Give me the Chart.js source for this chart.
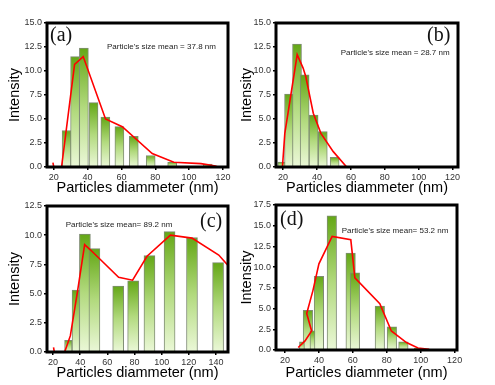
<!DOCTYPE html>
<html>
<head>
<meta charset="utf-8">
<script src="https://cdn.jsdelivr.net/npm/chart.js@4"></script>
<style>
  html, body { margin: 0; padding: 0; background: #fff; }
  #wrap { position: relative; width: 495px; height: 385px; overflow: hidden; }
  canvas { position: absolute; }
</style>
</head>
<body>
<div id="wrap">
  <canvas id="chartA" width="245" height="200" style="left:0;top:0"></canvas>
  <canvas id="chartB" width="245" height="200" style="left:232px;top:0"></canvas>
  <canvas id="chartC" width="245" height="195" style="left:0;top:190px"></canvas>
  <canvas id="chartD" width="245" height="195" style="left:232px;top:190px"></canvas>
</div>
<script>
// ---- data ----
// (a)
const barsA = [[27.6, 3.8], [32.6, 11.5], [37.8, 12.4], [43.5, 6.7], [50.5, 5.2], [58.8, 4.2], [67.3, 3.2], [77.3, 1.2], [90, 0.5], [111, 0.3]];
const lineA = [[19.5, 0.45], [20, 0], [24.6, 0], [32.3, 10.7], [37.4, 11.5], [50.6, 5.0], [60.5, 4.2], [78.2, 1.4], [91, 0.5], [107, 0.35], [115.5, 0.1], [117, 0]];
const xTicksA = [20, 40, 60, 80, 100, 120];
const yTicksA = [0, 2.5, 5, 7.5, 10, 12.5, 15];
const noteA = "Particle's size mean = 37.8 nm";

// (b)
const barsB = [[19.5, 0.5], [23.5, 7.6], [28.2, 12.8], [32.7, 9.6], [38, 5.4], [43.4, 3.7], [50.4, 1.0]];
const lineB = [[19.6, 0], [21, 3.5], [28.3, 11.7], [31.8, 10.3], [33.4, 9.4], [37.8, 5.6], [42.3, 3.5], [49.6, 1.6], [57.5, 0]];
const xTicksB = [20, 40, 60, 80, 100, 120];
const yTicksB = [0, 2.5, 5, 7.5, 10, 12.5, 15];
const noteB = "Particle's size mean = 28.7 nm";

// (c)
const barsCNarrow = [[31.3, 1.0], [36.8, 5.3]];
const barsCWide = [[43.5, 10.1], [50.5, 8.85], [68, 5.65], [79, 6.1], [91, 8.25], [105.8, 10.3], [122.3, 9.8], [141.5, 7.65]];
const lineC = [[20.4, 0.4], [21, 0], [28.6, 0], [32.8, 1.4], [38.2, 5.3], [43.3, 9.2], [47.5, 8.75], [68.3, 6.4], [78.6, 6.15], [89.2, 8.2], [106.4, 10.0], [122.3, 9.75], [142, 8.3], [148.8, 7.4]];
const xTicksC = [20, 40, 60, 80, 100, 120, 140];
const yTicksC = [0, 2.5, 5, 7.5, 10, 12.5];
const noteC = "Particle's size mean= 89.2 nm";

// (d)
const barsDNarrow = [[30, 1.0], [36.2, 2.3]];
const barsDWide = [[33.5, 4.8], [40, 8.9], [47.6, 16.2], [58.7, 11.7], [61.2, 9.3], [75.9, 5.3], [83, 2.8], [89.8, 1.0], [99, 0.2]];
const lineD = [[27.8, 0.3], [31.8, 1.1], [35.7, 2.3], [32.8, 4.4], [36.5, 7.2], [40, 10.4], [47.8, 13.7], [58.8, 13.3], [61.2, 8.7], [75.9, 5.6], [82.7, 2.3], [91.6, 0.9], [98.4, 0.25], [105, 0.1]];
const xTicksD = [20, 40, 60, 80, 100, 120];
const yTicksD = [0, 2.5, 5, 7.5, 10, 12.5, 15, 17.5];
const noteD = "Particle's size mean= 53.2 nm";

const SANS = "'Liberation Sans', Arial, sans-serif";
const SERIF = "'Liberation Serif', 'Times New Roman', serif";

const toPts = arr => arr.map(p => ({ x: p[0], y: p[1] }));

// each bar gets its own dark-to-light green gradient
function barFill(ctx) {
    const chart = ctx.chart;
    const y = chart.scales.y;
    if (!chart.chartArea || !y || !ctx.raw) return "#9ccc5a";
    const top = y.getPixelForValue(ctx.raw.y);
    const bot = y.getPixelForValue(0);
    if (!isFinite(top) || bot - top < 1) return "#6aaa1a";
    const g = chart.ctx.createLinearGradient(0, top, 0, bot);
    g.addColorStop(0, "#64a716");
    g.addColorStop(0.5, "#b2da7e");
    g.addColorStop(1, "#ebf8d8");
    return g;
}

function barSet(arr, thickness, order) {
    return {
        type: "bar",
        data: toPts(arr),
        backgroundColor: barFill,
        borderColor: "#7f8c74",
        borderWidth: 1,
        barThickness: thickness,
        grouped: false,
        order: order
    };
}

function lineSet(arr) {
    return {
        type: "line",
        data: toPts(arr),
        borderColor: "#ff0000",
        borderWidth: 1.6,
        pointRadius: 0,
        tension: 0,
        fill: false,
        order: 0
    };
}

// frame + panel letter + mean note
const decor = {
    id: "decor",
    afterDraw(chart) {
        const o = chart.options.plugins.decor;
        const { ctx, chartArea: a } = chart;
        ctx.save();
        ctx.strokeStyle = "#000";
        ctx.lineWidth = 3;
        ctx.strokeRect(a.left, a.top, a.right - a.left, a.bottom - a.top);
        ctx.fillStyle = "#111";
        ctx.font = "20px " + SERIF;
        ctx.textBaseline = "alphabetic";
        ctx.fillText(o.letter, o.lx, o.ly);
        ctx.fillStyle = "#222";
        ctx.font = "8px " + SANS;
        ctx.textBaseline = "middle";
        ctx.fillText(o.note, o.nx, o.ny);
        ctx.restore();
    }
};

function makePanel(id, cfg) {
    const tickGrid = {
        display: true,
        drawOnChartArea: false,
        drawTicks: true,
        tickLength: 3,
        color: "#000",
        lineWidth: 1.5,
        offset: false
    };
    new Chart(document.getElementById(id), {
        type: "bar",
        data: { datasets: cfg.datasets },
        options: {
            responsive: false,
            animation: false,
            devicePixelRatio: 1,
            layout: { padding: { top: cfg.padTop, right: cfg.padRight, left: 0, bottom: 0 } },
            plugins: {
                legend: { display: false },
                tooltip: { enabled: false },
                decor: cfg.decor
            },
            scales: {
                x: {
                    type: "linear",
                    offset: false,   // bar charts pad the x range by default
                    min: cfg.xMin,
                    max: cfg.xMax,
                    afterBuildTicks: s => { s.ticks = cfg.xTicks.map(v => ({ value: v })); },
                    afterFit: s => { s.height = cfg.xH; },
                    ticks: { font: { size: 9, family: SANS }, color: "#333", padding: 2, maxRotation: 0 },
                    grid: tickGrid,
                    border: { display: false },
                    title: {
                        display: true,
                        text: "Particles diammeter (nm)",
                        font: { size: 14.5, family: SANS },
                        color: "#000",
                        padding: { top: 0, bottom: 3 }
                    }
                },
                y: {
                    min: 0,
                    max: cfg.yMax,
                    afterBuildTicks: s => { s.ticks = cfg.yTicks.map(v => ({ value: v })); },
                    afterFit: s => { s.width = cfg.yW; },
                    ticks: {
                        font: { size: 9, family: SANS },
                        color: "#333",
                        padding: 2,
                        callback: v => Number(v).toFixed(1)
                    },
                    grid: tickGrid,
                    border: { display: false },
                    title: {
                        display: true,
                        text: "Intensity",
                        font: { size: 14.5, family: SANS },
                        color: "#000",
                        padding: { top: 6, bottom: 0 }
                    }
                }
            }
        },
        plugins: [decor]
    });
}

makePanel("chartA", {
    datasets: [lineSet(lineA), barSet(barsA, 9, 1)],
    xMin: 16, xMax: 123, yMax: 15, xTicks: xTicksA, yTicks: yTicksA,
    padTop: 23, padRight: 17, yW: 47, xH: 33,
    decor: { letter: "(a)", lx: 50, ly: 41, note: noteA, nx: 107, ny: 47 }
});

makePanel("chartB", {
    datasets: [lineSet(lineB), barSet(barsB, 9, 1)],
    xMin: 15.8, xMax: 123.2, yMax: 15, xTicks: xTicksB, yTicks: yTicksB,
    padTop: 23, padRight: 19, yW: 44, xH: 33,
    decor: { letter: "(b)", lx: 195, ly: 41, note: noteB, nx: 108.7, ny: 53 }
});

makePanel("chartC", {
    datasets: [lineSet(lineC), barSet(barsCNarrow, 7.5, 1), barSet(barsCWide, 11, 2)],
    xMin: 15.6, xMax: 148.8, yMax: 12.5, xTicks: xTicksC, yTicks: yTicksC,
    padTop: 16, padRight: 17, yW: 47, xH: 33,
    decor: { letter: "(c)", lx: 200, ly: 37, note: noteC, nx: 65.7, ny: 34.5 }
});

makePanel("chartD", {
    datasets: [lineSet(lineD), barSet(barsDNarrow, 5, 1), barSet(barsDWide, 9.5, 2)],
    xMin: 14.7, xMax: 121.4, yMax: 17.5, xTicks: xTicksD, yTicks: yTicksD,
    padTop: 15, padRight: 20, yW: 44, xH: 35,
    decor: { letter: "(d)", lx: 48, ly: 34.5, note: noteD, nx: 109.7, ny: 41 }
});
</script>
</body>
</html>
